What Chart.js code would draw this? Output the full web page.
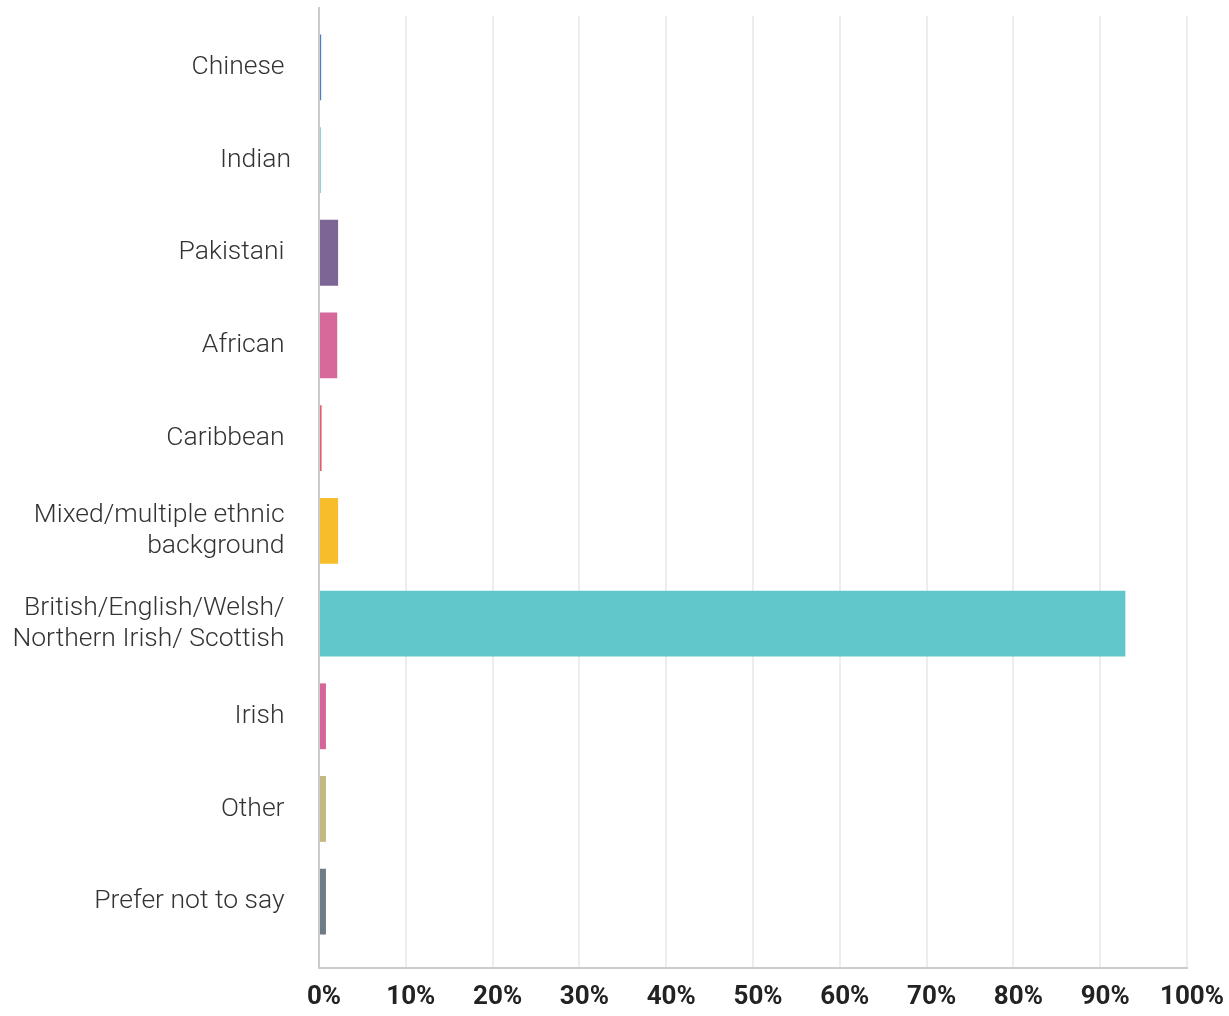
<!DOCTYPE html>
<html>
<head>
<meta charset="utf-8">
<script src="https://cdn.jsdelivr.net/npm/chart.js@4"></script>
<style>
  html, body { margin: 0; padding: 0; background: #fff; }
  #wrap { width: 1229px; height: 1016px; }
</style>
</head>
<body>
<div id="wrap"><canvas id="ethnicChart" width="1229" height="1016"></canvas></div>
<script>
// trailing spaces mimic the uneven right edge of the original labels
const categories = [
  'Chinese ', 'Indian', 'Pakistani ', 'African ', 'Caribbean ',
  ['Mixed/multiple ethnic ', 'background '],
  ['British/English/Welsh/ ', 'Northern Irish/ Scottish '],
  'Irish ', 'Other ', 'Prefer not to say '
];
const shares = [0.25, 0.2, 2.2, 2.1, 0.3, 2.2, 92.9, 0.8, 0.8, 0.8];
const barColours = [
  '#4a7fc1', '#5cc9c9', '#7d6596', '#d6699a', '#e55c6c',
  '#f7bd2b', '#61c7ca', '#d6669a', '#c3b782', '#6e7d85'
];
const tickSteps = [0, 10, 20, 30, 40, 50, 60, 70, 80, 90, 100];

const GRID = '#eceeee';
const AXIS = '#cccccc';

// grid lines and axis lines run a bit past the plot area in the original
const axisFrame = {
  id: 'axisFrame',
  beforeDatasetsDraw(chart) {
    const { ctx, chartArea } = chart;
    const x = chart.scales.x;
    const bottom = chartArea.bottom + 20;
    ctx.save();
    ctx.lineWidth = 2;
    ctx.strokeStyle = GRID;
    tickSteps.forEach((v) => {
      if (v === 0) return;
      const px = Math.round(x.getPixelForValue(v));
      ctx.beginPath();
      ctx.moveTo(px, chartArea.top - 5);
      ctx.lineTo(px, chartArea.top);
      ctx.moveTo(px, chartArea.bottom);
      ctx.lineTo(px, bottom);
      ctx.stroke();
    });
    ctx.strokeStyle = AXIS;
    ctx.beginPath();
    const x0 = Math.round(x.getPixelForValue(0));
    ctx.moveTo(x0, chartArea.top - 14);
    ctx.lineTo(x0, bottom);
    ctx.lineTo(Math.round(x.getPixelForValue(100)) + 1, bottom);
    ctx.stroke();
    ctx.restore();
  }
};

new Chart(document.getElementById('ethnicChart').getContext('2d'), {
  type: 'bar',
  data: {
    labels: categories,
    datasets: [{
      data: shares,
      backgroundColor: barColours,
      barPercentage: 0.71,
      categoryPercentage: 1
    }]
  },
  options: {
    indexAxis: 'y',
    responsive: false,
    animation: false,
    layout: { padding: { top: 21, right: 42, left: 0, bottom: 0 } },
    plugins: { legend: { display: false }, tooltip: { enabled: false } },
    scales: {
      x: {
        min: 0,
        max: 100,
        afterBuildTicks(scale) {
          scale.ticks = tickSteps.map((v) => ({ value: v }));
        },
        afterFit(scale) {
          scale.height = 68;
          scale.paddingLeft = 0;
          scale.paddingRight = 0;
        },
        grid: { color: GRID, lineWidth: 2, drawTicks: false },
        border: { display: false },
        ticks: {
          padding: 34,
          labelOffset: 5,
          color: '#222',
          font: { family: 'Roboto', size: 26, weight: 'bold' },
          callback: (v) => v + '%'
        }
      },
      y: {
        afterFit(scale) {
          scale.width = 319;
          scale.paddingTop = 0;
          scale.paddingBottom = 0;
        },
        grid: { display: false, drawTicks: false },
        border: { display: false },
        ticks: {
          padding: 28,
          color: '#333',
          font: { family: 'Roboto', size: 26.5, weight: '300', lineHeight: 1.17 }
        }
      }
    }
  },
  plugins: [axisFrame]
});
</script>
</body>
</html>
